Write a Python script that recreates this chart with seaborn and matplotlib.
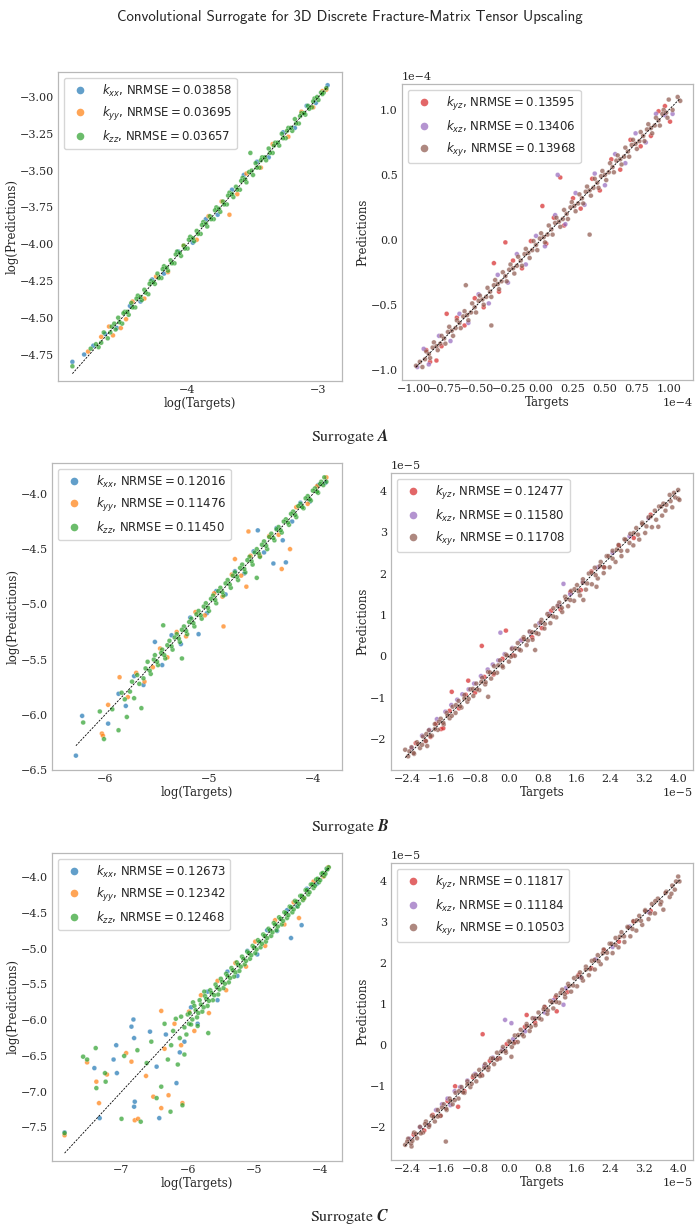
import numpy as np
import pandas as pd
import seaborn as sns
from matplotlib import pyplot as plt
from matplotlib.lines import Line2D

# (target, prediction) pairs, per tensor component

# Surrogate A, diagonal components, log10 values
A_kxx = [(-4.88, -4.80), (-4.79, -4.75), (-4.72, -4.69), (-4.63, -4.61), (-4.54, -4.57),
         (-4.44, -4.42), (-4.36, -4.39), (-4.27, -4.24), (-4.18, -4.20), (-4.07, -4.05),
         (-3.96, -3.99), (-3.86, -3.83), (-3.77, -3.80), (-3.66, -3.63), (-3.57, -3.53),
         (-3.47, -3.44), (-3.38, -3.41), (-3.27, -3.24), (-3.18, -3.21), (-3.09, -3.06),
         (-3.02, -3.04), (-2.93, -2.92)]
A_kyy = [(-4.76, -4.73), (-4.66, -4.63), (-4.60, -4.56), (-4.57, -4.62), (-4.51, -4.57),
         (-4.47, -4.51), (-4.42, -4.39), (-4.33, -4.37), (-4.24, -4.22), (-4.15, -4.19),
         (-4.03, -4.01), (-3.93, -3.97), (-3.84, -3.81), (-3.74, -3.71), (-3.68, -3.80),
         (-3.62, -3.66), (-3.55, -3.52), (-3.44, -3.48), (-3.35, -3.32), (-3.23, -3.27),
         (-3.13, -3.10), (-3.04, -3.07), (-2.97, -2.96), (-2.94, -2.95)]
A_kzz = [(-4.88, -4.83), (-4.74, -4.71), (-4.68, -4.70), (-4.64, -4.60), (-4.61, -4.64),
         (-4.58, -4.56), (-4.55, -4.58), (-4.53, -4.50), (-4.50, -4.54), (-4.48, -4.46),
         (-4.45, -4.48), (-4.43, -4.40), (-4.40, -4.43), (-4.38, -4.35), (-4.35, -4.38),
         (-4.33, -4.31), (-4.30, -4.34), (-4.28, -4.25), (-4.25, -4.27), (-4.23, -4.20),
         (-4.20, -4.23), (-4.18, -4.15), (-4.15, -4.18), (-4.13, -4.11), (-4.10, -4.13),
         (-4.08, -4.05), (-4.05, -4.08), (-4.03, -4.01), (-4.00, -4.03), (-3.98, -3.95),
         (-3.95, -3.98), (-3.93, -3.91), (-3.90, -3.93), (-3.88, -3.85), (-3.85, -3.88),
         (-3.83, -3.81), (-3.80, -3.83), (-3.78, -3.75), (-3.75, -3.78), (-3.73, -3.71),
         (-3.70, -3.73), (-3.68, -3.65), (-3.65, -3.68), (-3.63, -3.61), (-3.60, -3.63),
         (-3.58, -3.55), (-3.55, -3.58), (-3.52, -3.38), (-3.53, -3.51), (-3.50, -3.53),
         (-3.48, -3.45), (-3.45, -3.48), (-3.43, -3.41), (-3.40, -3.43), (-3.38, -3.35),
         (-3.35, -3.38), (-3.33, -3.31), (-3.30, -3.33), (-3.28, -3.25), (-3.25, -3.28),
         (-3.23, -3.21), (-3.20, -3.23), (-3.18, -3.15), (-3.15, -3.18), (-3.13, -3.11),
         (-3.10, -3.12), (-3.08, -3.06), (-3.05, -3.07), (-3.03, -3.01), (-3.00, -3.02),
         (-2.98, -2.97), (-2.96, -2.97), (-2.94, -2.94),
         (-4.70, -4.68), (-4.66, -4.67), (-4.59, -4.60), (-4.56, -4.54), (-4.52, -4.53),
         (-4.49, -4.47), (-4.46, -4.46), (-4.42, -4.43), (-4.39, -4.37), (-4.36, -4.36),
         (-4.32, -4.33), (-4.29, -4.27), (-4.26, -4.26), (-4.22, -4.23), (-4.19, -4.17),
         (-4.16, -4.16), (-4.12, -4.13), (-4.09, -4.07), (-4.06, -4.06), (-4.02, -4.03),
         (-3.99, -3.97), (-3.96, -3.96), (-3.92, -3.93), (-3.89, -3.87), (-3.86, -3.86),
         (-3.82, -3.83), (-3.79, -3.77), (-3.76, -3.76), (-3.72, -3.73), (-3.69, -3.67),
         (-3.66, -3.66), (-3.62, -3.63), (-3.59, -3.57), (-3.56, -3.56), (-3.51, -3.50),
         (-3.47, -3.48), (-3.44, -3.43), (-3.41, -3.41), (-3.37, -3.38), (-3.34, -3.33),
         (-3.31, -3.31), (-3.27, -3.28), (-3.24, -3.23), (-3.21, -3.21), (-3.17, -3.18),
         (-3.14, -3.13), (-3.11, -3.11), (-3.07, -3.08), (-3.04, -3.03), (-3.01, -3.00),
         (-2.97, -2.98)]

# Surrogate A, off-diagonal components, in units of 1e-4
A_kyz = [(-0.87, -0.94), (-0.82, -0.93), (-0.90, -0.85), (-0.74, -0.57), (-0.78, -0.82),
         (-0.66, -0.60), (-0.60, -0.66), (-0.52, -0.45), (-0.45, -0.52), (-0.37, -0.18),
         (-0.33, -0.40), (-0.28, -0.02), (-0.22, -0.16), (-0.15, -0.22), (-0.08, -0.01),
         (0.01, 0.26), (0.04, -0.03), (0.10, 0.17), (0.15, 0.48), (0.18, 0.11),
         (0.25, 0.32), (0.31, 0.24), (0.40, 0.47), (0.46, 0.38), (0.55, 0.62),
         (0.62, 0.54), (0.70, 0.77), (0.78, 0.72), (0.86, 0.80), (0.92, 0.99),
         (1.01, 0.91), (0.97, 1.03)]
A_kxz = [(-0.97, -0.98), (-0.92, -0.84), (-0.88, -0.96), (-0.80, -0.74), (-0.71, -0.78),
         (-0.64, -0.57), (-0.57, -0.64), (-0.49, -0.42), (-0.41, -0.49), (-0.34, -0.27),
         (-0.26, -0.33), (-0.19, -0.11), (-0.12, -0.19), (-0.04, 0.03), (0.03, -0.05),
         (0.11, 0.19), (0.13, 0.50), (0.19, 0.12), (0.27, 0.36), (0.34, 0.27),
         (0.42, 0.51), (0.50, 0.42), (0.58, 0.66), (0.66, 0.59), (0.74, 0.82),
         (0.82, 0.75), (0.90, 0.97), (0.97, 0.96), (1.03, 0.97)]
A_kxy = [(-0.98, -0.97), (-0.93, -0.98), (-0.90, -0.86), (-0.87, -0.91), (-0.84, -0.79),
         (-0.81, -0.85), (-0.78, -0.74), (-0.75, -0.80), (-0.72, -0.67), (-0.69, -0.74),
         (-0.66, -0.62), (-0.63, -0.68), (-0.60, -0.55), (-0.59, -0.35), (-0.57, -0.62),
         (-0.54, -0.49), (-0.51, -0.56), (-0.48, -0.43), (-0.45, -0.50), (-0.42, -0.37),
         (-0.39, -0.66), (-0.39, -0.44), (-0.36, -0.31), (-0.33, -0.38), (-0.30, -0.25),
         (-0.27, -0.32), (-0.24, -0.19), (-0.21, -0.26), (-0.18, -0.13), (-0.15, -0.20),
         (-0.12, -0.07), (-0.09, -0.14), (-0.06, -0.01), (-0.03, -0.08), (0.00, 0.05),
         (0.03, -0.02), (0.06, 0.11), (0.09, 0.04), (0.12, 0.17), (0.15, 0.10),
         (0.18, 0.23), (0.21, 0.16), (0.24, 0.29), (0.27, 0.22), (0.30, 0.35),
         (0.33, 0.28), (0.36, 0.41), (0.38, 0.04), (0.39, 0.34), (0.42, 0.47),
         (0.45, 0.40), (0.48, 0.53), (0.51, 0.46), (0.54, 0.59), (0.57, 0.52),
         (0.60, 0.65), (0.63, 0.58), (0.66, 0.71), (0.69, 0.64), (0.72, 0.77),
         (0.75, 0.70), (0.78, 0.83), (0.81, 0.76), (0.84, 0.89), (0.87, 0.82),
         (0.90, 0.94), (0.93, 0.88), (0.96, 1.00), (0.99, 0.94), (1.00, 1.08),
         (1.03, 1.00), (1.07, 1.10), (1.09, 1.07),
         (-0.95, -0.94), (-0.91, -0.92), (-0.88, -0.88), (-0.85, -0.83), (-0.82, -0.82),
         (-0.79, -0.80), (-0.76, -0.76), (-0.73, -0.71), (-0.70, -0.70), (-0.67, -0.68),
         (-0.64, -0.64), (-0.61, -0.59), (-0.58, -0.58), (-0.55, -0.56), (-0.52, -0.52),
         (-0.49, -0.47), (-0.46, -0.46), (-0.43, -0.44), (-0.40, -0.40), (-0.37, -0.35),
         (-0.34, -0.34), (-0.31, -0.32), (-0.28, -0.28), (-0.25, -0.23), (-0.22, -0.22),
         (-0.19, -0.20), (-0.16, -0.16), (-0.13, -0.11), (-0.10, -0.10), (-0.07, -0.08),
         (-0.04, -0.04), (-0.01, 0.01), (0.02, 0.02), (0.05, 0.04), (0.08, 0.08),
         (0.11, 0.13), (0.14, 0.14), (0.17, 0.16), (0.20, 0.20), (0.23, 0.25),
         (0.26, 0.26), (0.29, 0.28), (0.32, 0.32), (0.35, 0.37), (0.38, 0.38),
         (0.41, 0.40), (0.44, 0.44), (0.47, 0.49), (0.50, 0.50), (0.53, 0.52),
         (0.56, 0.56), (0.59, 0.61), (0.62, 0.62), (0.65, 0.64), (0.68, 0.68),
         (0.71, 0.73), (0.74, 0.74), (0.77, 0.76), (0.80, 0.80), (0.83, 0.85),
         (0.86, 0.86), (0.89, 0.88), (0.92, 0.92), (0.95, 0.97), (0.98, 0.98)]

# Surrogate B, diagonal components, log10 values
B_kxx = [(-6.28, -6.37), (-6.22, -6.01), (-5.97, -6.08), (-5.87, -5.81), (-5.80, -5.92),
         (-5.72, -5.65), (-5.63, -5.73), (-5.52, -5.34), (-5.45, -5.55), (-5.36, -5.28),
         (-5.27, -5.36), (-5.10, -5.27), (-5.18, -5.12), (-5.02, -5.08), (-4.93, -4.88),
         (-4.84, -4.91), (-4.75, -4.70), (-4.66, -4.72), (-4.53, -4.33), (-4.57, -4.52),
         (-4.47, -4.53), (-4.38, -4.63), (-4.29, -4.42), (-4.26, -4.62), (-4.35, -4.31),
         (-4.20, -4.25), (-4.12, -4.08), (-4.03, -4.07), (-3.95, -3.92), (-3.88, -3.90)]
B_kyy = [(-6.03, -6.17), (-6.02, -6.19), (-5.97, -5.91), (-5.86, -5.66), (-5.78, -5.84),
         (-5.70, -5.62), (-5.62, -5.70), (-5.54, -5.57), (-5.47, -5.40), (-5.40, -5.48),
         (-5.31, -5.25), (-5.22, -5.29), (-5.13, -5.07), (-5.04, -5.10), (-4.86, -5.20),
         (-4.95, -4.90), (-4.87, -4.93), (-4.75, -4.59), (-4.78, -4.73), (-4.64, -4.84),
         (-4.69, -4.74), (-4.62, -4.34), (-4.60, -4.56), (-4.51, -4.56), (-4.30, -4.68),
         (-4.22, -4.50), (-4.42, -4.38), (-4.33, -4.37), (-4.16, -4.12), (-4.05, -4.09),
         (-3.96, -3.93), (-3.87, -3.85)]
B_kzz = [(-6.21, -6.07), (-6.05, -5.97), (-6.01, -6.22), (-5.93, -5.95), (-5.87, -6.14),
         (-5.79, -6.02), (-5.76, -5.79), (-5.72, -5.85), (-5.69, -5.64), (-5.65, -5.94),
         (-5.63, -5.67), (-5.59, -5.52), (-5.56, -5.63), (-5.52, -5.46), (-5.49, -5.55),
         (-5.44, -5.19), (-5.45, -5.41), (-5.42, -5.49), (-5.38, -5.33), (-5.35, -5.41),
         (-5.31, -5.27), (-5.28, -5.34), (-5.26, -5.49), (-5.24, -5.20), (-5.21, -5.27),
         (-5.17, -5.13), (-5.14, -5.20), (-5.10, -5.06), (-5.07, -5.13), (-5.03, -4.99),
         (-5.00, -5.06), (-4.96, -4.92), (-4.93, -4.99), (-4.89, -4.85), (-4.86, -4.92),
         (-4.82, -4.78), (-4.79, -4.85), (-4.75, -4.71), (-4.72, -4.78), (-4.68, -4.64),
         (-4.65, -4.71), (-4.61, -4.57), (-4.58, -4.64), (-4.54, -4.76), (-4.54, -4.50),
         (-4.51, -4.57), (-4.47, -4.43), (-4.44, -4.50), (-4.40, -4.36), (-4.37, -4.42),
         (-4.33, -4.30), (-4.30, -4.35), (-4.26, -4.23), (-4.23, -4.28), (-4.19, -4.16),
         (-4.16, -4.21), (-4.12, -4.09), (-4.09, -4.13), (-4.05, -4.02), (-4.02, -4.06),
         (-3.98, -3.95), (-3.95, -3.99), (-3.92, -3.89), (-3.89, -3.85), (-3.87, -3.89),
         (-5.84, -5.80), (-5.81, -5.86), (-5.74, -5.70), (-5.67, -5.72), (-5.61, -5.58),
         (-5.57, -5.60), (-5.53, -5.50), (-5.50, -5.52), (-5.46, -5.44), (-5.43, -5.46),
         (-5.40, -5.37), (-5.36, -5.38), (-5.33, -5.30), (-5.29, -5.31), (-5.26, -5.23),
         (-5.22, -5.24), (-5.19, -5.16), (-5.15, -5.17), (-5.12, -5.09), (-5.08, -5.10),
         (-5.05, -5.02), (-5.01, -5.03), (-4.98, -4.95), (-4.94, -4.96), (-4.91, -4.88),
         (-4.87, -4.89), (-4.84, -4.81), (-4.80, -4.82), (-4.77, -4.74), (-4.73, -4.75),
         (-4.70, -4.67), (-4.66, -4.68), (-4.63, -4.60), (-4.59, -4.61), (-4.56, -4.53),
         (-4.52, -4.54), (-4.49, -4.46), (-4.45, -4.47), (-4.42, -4.39), (-4.38, -4.40),
         (-4.35, -4.32), (-4.31, -4.33), (-4.28, -4.25), (-4.24, -4.26), (-4.21, -4.18),
         (-4.17, -4.19), (-4.14, -4.11), (-4.10, -4.12), (-4.07, -4.04), (-4.03, -4.05),
         (-4.00, -3.97), (-3.96, -3.98), (-3.93, -3.91), (-3.90, -3.92)]

# Surrogate B, off-diagonal components, in units of 1e-5
B_kyz = [(-2.20, -2.10), (-1.97, -2.05), (-1.85, -1.95), (-1.72, -1.63), (-1.60, -1.76),
         (-1.55, -1.74), (-1.35, -0.86), (-1.40, -1.32), (-1.18, -1.26), (-0.96, -0.59),
         (-1.02, -0.93), (-0.80, -0.88), (-0.64, 0.25), (-0.58, -0.50), (-0.36, -0.44),
         (-0.07, 0.62), (-0.15, -0.06), (0.10, 0.02), (0.32, 0.41), (0.55, 0.46),
         (0.78, 0.68), (1.00, 1.10), (1.22, 1.13), (1.45, 1.55), (1.70, 1.60),
         (1.95, 2.05), (2.25, 2.15), (2.60, 2.68), (2.95, 2.86), (3.35, 3.42)]
B_kxz = [(-2.30, -2.22), (-2.05, -1.92), (-1.88, -1.78), (-1.70, -1.52), (-1.50, -1.34),
         (-1.36, -1.18), (-1.22, -1.05), (-1.10, -0.92), (-0.95, -0.80), (-0.82, -0.66),
         (-0.66, -0.48), (-0.50, -0.32), (-0.38, -0.20), (-0.20, 0.57), (-0.25, -0.10),
         (-0.10, 0.05), (0.08, 0.20), (0.28, 0.38), (0.50, 0.58), (0.72, 0.80),
         (0.95, 1.02), (1.29, 1.75), (1.18, 1.24), (1.45, 1.50), (1.75, 1.80),
         (2.10, 2.15), (2.45, 2.50), (2.85, 2.90), (3.30, 3.34)]
B_kxy = [(-2.45, -2.26), (-2.38, -2.42), (-2.30, -2.20), (-2.24, -2.36), (-2.17, -2.08),
         (-2.10, -2.22), (-2.03, -1.94), (-1.93, -2.17), (-1.96, -2.05), (-1.89, -1.79),
         (-1.82, -1.92), (-1.75, -1.64), (-1.68, -1.78), (-1.61, -1.51), (-1.54, -1.65),
         (-1.47, -1.37), (-1.40, -1.50), (-1.33, -1.22), (-1.26, -1.37), (-1.19, -1.08),
         (-1.12, -1.24), (-1.05, -0.94), (-0.98, -1.10), (-0.91, -0.80), (-0.84, -0.96),
         (-0.77, -0.66), (-0.70, -0.82), (-0.63, -0.52), (-0.49, -0.98), (-0.56, -0.68),
         (-0.49, -0.38), (-0.42, -0.54), (-0.35, -0.24), (-0.28, -0.40), (-0.21, -0.10),
         (-0.14, -0.27), (-0.07, 0.04), (0.00, -0.13), (0.07, 0.18), (0.14, 0.01),
         (0.21, 0.32), (0.28, 0.14), (0.35, 0.46), (0.42, 0.27), (0.49, 0.60),
         (0.56, 0.40), (0.62, 0.15), (0.63, 0.74), (0.70, 0.54), (0.77, 0.88),
         (0.84, 0.67), (0.91, 1.02), (0.98, 0.80), (1.05, 1.16), (1.12, 0.94),
         (1.19, 1.30), (1.26, 1.07), (1.33, 1.44), (1.40, 1.21), (1.47, 1.58),
         (1.54, 1.34), (1.61, 1.72), (1.68, 1.47), (1.76, 1.36), (1.75, 1.86),
         (1.82, 1.61), (1.89, 2.00), (1.96, 1.74), (2.03, 2.14), (2.07, 1.68),
         (2.10, 1.88), (2.17, 2.28), (2.24, 2.01), (2.31, 2.42), (2.38, 2.15),
         (2.45, 2.55), (2.52, 2.28), (2.59, 2.69), (2.66, 2.42), (2.73, 2.83),
         (2.80, 2.55), (2.87, 2.96), (2.94, 2.68), (3.01, 3.10), (3.08, 2.82),
         (3.15, 3.23), (3.22, 2.98), (3.30, 3.36), (3.38, 3.12), (3.45, 3.52),
         (3.53, 3.13), (3.55, 3.62), (3.62, 3.40), (3.65, 3.69), (3.72, 3.66),
         (3.80, 3.90), (3.86, 3.60), (3.93, 3.84), (4.00, 4.02), (4.00, 3.81),
         (4.03, 3.78),
         (-2.35, -2.30), (-2.25, -2.34), (-2.15, -2.12), (-2.05, -2.14), (-1.95, -1.88),
         (-1.85, -1.93), (-1.75, -1.76), (-1.65, -1.58), (-1.55, -1.61), (-1.45, -1.43),
         (-1.35, -1.44), (-1.25, -1.18), (-1.15, -1.21), (-1.05, -1.02), (-0.95, -1.03),
         (-0.85, -0.79), (-0.75, -0.80), (-0.65, -0.62), (-0.55, -0.63), (-0.45, -0.39),
         (-0.35, -0.41), (-0.25, -0.22), (-0.15, -0.24), (-0.05, 0.02), (0.05, -0.01),
         (0.15, 0.19), (0.25, 0.16), (0.35, 0.42), (0.45, 0.38), (0.55, 0.58),
         (0.65, 0.56), (0.75, 0.82), (0.85, 0.78), (0.95, 0.98), (1.05, 0.96),
         (1.15, 1.22), (1.25, 1.17), (1.35, 1.38), (1.45, 1.36), (1.55, 1.62),
         (1.65, 1.57), (1.75, 1.78), (1.85, 1.76), (1.95, 2.02), (2.05, 1.96),
         (2.15, 2.18), (2.25, 2.15), (2.35, 2.42), (2.45, 2.36), (2.55, 2.58),
         (2.65, 2.55), (2.75, 2.82), (2.85, 2.74), (2.95, 2.98), (3.05, 2.94),
         (3.15, 3.20), (3.25, 3.14), (3.35, 3.38), (3.48, 3.30), (3.60, 3.62),
         (3.70, 3.52), (3.82, 3.75), (3.90, 3.95)]

# Surrogate C, diagonal components, log10 values
C_kxx = [(-7.86, -7.57), (-7.41, -6.67), (-7.33, -7.37), (-7.12, -6.55), (-7.08, -6.35),
         (-7.07, -6.74), (-6.85, -6.09), (-6.82, -5.99), (-6.81, -7.21), (-6.80, -7.14),
         (-6.81, -6.25), (-6.57, -6.16), (-6.47, -6.65), (-6.43, -7.37), (-6.33, -6.20),
         (-6.17, -6.88), (-6.12, -6.45), (-6.05, -6.30), (-5.95, -5.82), (-5.85, -6.05),
         (-5.70, -5.60), (-5.55, -5.72), (-5.40, -5.32), (-5.25, -5.38), (-5.10, -5.03),
         (-4.95, -5.08), (-4.80, -4.74), (-4.65, -4.75), (-4.44, -4.85), (-4.28, -4.67),
         (-4.50, -4.46), (-4.35, -4.40), (-4.20, -4.16), (-4.05, -4.09), (-3.90, -3.88)]
C_kyy = [(-7.86, -7.61), (-7.52, -6.59), (-7.38, -6.86), (-7.34, -7.16), (-7.22, -6.76),
         (-6.93, -6.46), (-6.85, -6.58), (-6.80, -7.40), (-6.75, -7.38), (-6.63, -6.78),
         (-6.52, -7.07), (-6.40, -5.87), (-6.40, -7.23), (-6.35, -6.40), (-6.29, -7.05),
         (-6.20, -6.05), (-6.08, -7.16), (-6.10, -6.35), (-5.98, -5.88), (-5.90, -6.15),
         (-5.80, -5.65), (-5.68, -5.90), (-5.55, -5.45), (-5.42, -5.58), (-5.28, -5.20),
         (-5.12, -5.25), (-4.98, -4.90), (-4.83, -4.96), (-4.68, -4.60), (-4.54, -4.66),
         (-4.32, -4.57), (-4.40, -4.35), (-4.25, -4.30), (-4.10, -4.06), (-3.95, -3.99),
         (-3.88, -3.86)]
C_kzz = [(-7.86, -7.58), (-7.58, -6.51), (-7.52, -6.55), (-7.39, -6.39), (-7.38, -6.95),
         (-7.25, -6.74), (-7.24, -6.86), (-7.00, -7.38), (-6.96, -6.50), (-6.76, -6.42),
         (-6.71, -7.42), (-6.62, -6.60), (-6.55, -6.30), (-6.47, -7.09), (-6.40, -6.93),
         (-6.30, -6.55), (-6.26, -7.28), (-6.22, -6.15), (-6.08, -7.19), (-6.15, -6.62),
         (-6.05, -6.48), (-5.98, -6.05), (-5.69, -6.18), (-6.10, -5.95),
         (-6.35, -6.05), (-6.25, -6.35), (-6.18, -5.98), (-6.12, -6.25), (-6.02, -6.20),
         (-5.92, -5.75), (-5.85, -6.08), (-5.75, -5.60),
         (-6.00, -5.92), (-5.95, -6.06), (-5.90, -5.80), (-5.86, -5.96), (-5.82, -5.72),
         (-5.78, -5.88), (-5.74, -5.66), (-5.70, -5.80), (-5.66, -5.58), (-5.62, -5.72),
         (-5.58, -5.50), (-5.54, -5.64), (-5.50, -5.42), (-5.46, -5.55), (-5.42, -5.35),
         (-5.38, -5.47), (-5.34, -5.27), (-5.30, -5.39), (-5.26, -5.19), (-5.22, -5.31),
         (-5.18, -5.11), (-5.14, -5.22), (-5.10, -5.04), (-5.06, -5.14), (-5.02, -4.96),
         (-4.98, -5.06), (-4.94, -4.88), (-4.90, -4.98), (-4.86, -4.80), (-4.82, -4.90),
         (-4.78, -4.72), (-4.74, -4.82), (-4.70, -4.64), (-4.66, -4.74), (-4.62, -4.56),
         (-4.58, -4.66), (-4.54, -4.49), (-4.50, -4.57), (-4.46, -4.41), (-4.42, -4.49),
         (-4.38, -4.33), (-4.34, -4.41), (-4.30, -4.26), (-4.26, -4.32), (-4.22, -4.18),
         (-4.18, -4.24), (-4.14, -4.10), (-4.10, -4.15), (-4.06, -4.03), (-4.02, -4.07),
         (-3.98, -3.95), (-3.94, -3.98), (-3.90, -3.88), (-3.87, -3.86),
         (-6.05, -6.10), (-5.97, -5.90), (-5.93, -5.99), (-5.88, -5.86), (-5.84, -5.90),
         (-5.80, -5.78), (-5.76, -5.82), (-5.72, -5.70), (-5.68, -5.73), (-5.64, -5.62),
         (-5.60, -5.65), (-5.56, -5.54), (-5.52, -5.57), (-5.48, -5.46), (-5.44, -5.49),
         (-5.40, -5.38), (-5.36, -5.41), (-5.32, -5.30), (-5.28, -5.33), (-5.24, -5.22),
         (-5.20, -5.25), (-5.16, -5.14), (-5.12, -5.17), (-5.08, -5.06), (-5.04, -5.09),
         (-5.00, -4.98), (-4.96, -5.01), (-4.92, -4.90), (-4.88, -4.93), (-4.84, -4.82),
         (-4.80, -4.85), (-4.76, -4.74), (-4.72, -4.77), (-4.68, -4.66), (-4.64, -4.69),
         (-4.60, -4.58), (-4.56, -4.61), (-4.52, -4.50), (-4.48, -4.53), (-4.44, -4.42),
         (-4.40, -4.45), (-4.36, -4.34), (-4.32, -4.37), (-4.28, -4.26), (-4.24, -4.29),
         (-4.20, -4.18), (-4.16, -4.21), (-4.12, -4.10), (-4.08, -4.12), (-4.04, -4.02),
         (-4.00, -4.04), (-3.96, -3.94), (-3.92, -3.95), (-3.89, -3.89)]

# Surrogate C, off-diagonal components, in units of 1e-5
C_kyz = [(-2.25, -2.18), (-2.00, -2.08), (-1.80, -1.70), (-1.62, -1.72), (-1.45, -1.36),
         (-1.27, -1.00), (-1.20, -1.50), (-1.05, -1.12), (-0.85, -0.78), (-0.62, 0.27),
         (-0.65, -0.72), (-0.45, -0.38), (-0.25, -0.32), (-0.05, 0.03), (0.15, 0.08),
         (0.42, 0.74), (0.38, 0.45), (0.62, 0.55), (0.85, 0.93), (1.13, 0.83),
         (1.10, 1.17), (1.38, 1.30), (1.65, 1.72), (1.95, 1.88), (2.25, 2.32),
         (2.60, 2.53), (2.95, 3.02), (3.35, 3.28)]
C_kxz = [(-2.35, -2.28), (-2.10, -2.00), (-1.90, -1.95), (-1.72, -1.58), (-1.58, -1.44),
         (-1.45, -1.30), (-1.38, -1.46), (-1.28, -1.12), (-1.15, -1.02), (-0.98, -0.86),
         (-0.80, -0.70), (-0.58, -0.50), (-0.38, -0.30), (-0.09, 0.62), (0.06, 0.54),
         (-0.15, -0.10), (0.10, 0.15), (0.38, 0.34), (0.60, 0.66), (0.85, 0.80),
         (1.29, 0.99), (1.05, 1.10), (1.35, 1.40), (1.70, 1.65), (2.05, 2.10),
         (2.45, 2.40), (2.85, 2.90), (3.30, 3.25)]
C_kxy = [(-2.45, -2.43), (-2.30, -2.47), (-2.38, -2.28), (-2.31, -2.40), (-2.24, -2.13),
         (-2.17, -2.27), (-2.10, -1.99), (-2.03, -2.13), (-1.96, -1.86), (-1.89, -1.99),
         (-1.82, -1.72), (-1.75, -1.86), (-1.68, -1.58), (-1.61, -1.72), (-1.54, -1.44),
         (-1.49, -2.35), (-1.47, -1.58), (-1.40, -1.30), (-1.33, -1.44), (-1.26, -1.16),
         (-1.19, -1.30), (-1.12, -1.02), (-1.05, -1.16), (-0.98, -0.88), (-0.91, -1.02),
         (-0.84, -0.74), (-0.77, -0.88), (-0.70, -0.60), (-0.63, -0.74), (-0.56, -0.46),
         (-0.49, -0.60), (-0.42, -0.32), (-0.35, -0.46), (-0.28, -0.18), (-0.21, -0.32),
         (-0.14, -0.04), (-0.07, -0.18), (0.00, 0.10), (0.06, -0.28), (0.07, -0.04),
         (0.14, 0.24), (0.21, 0.08), (0.28, 0.38), (0.35, 0.22), (0.42, 0.52),
         (0.49, 0.35), (0.56, 0.66), (0.63, 0.49), (0.70, 0.80), (0.77, 0.63),
         (0.84, 0.94), (0.91, 0.77), (0.98, 1.08), (1.05, 0.90), (1.12, 1.22),
         (1.19, 1.04), (1.26, 1.36), (1.33, 1.17), (1.40, 1.50), (1.47, 1.31),
         (1.54, 1.64), (1.61, 1.44), (1.68, 1.78), (1.75, 1.58), (1.82, 1.92),
         (1.89, 1.71), (1.96, 2.06), (2.03, 1.85), (2.10, 2.20), (2.17, 1.98),
         (2.24, 2.34), (2.31, 2.12), (2.38, 2.48), (2.45, 2.25), (2.52, 2.62),
         (2.59, 2.39), (2.66, 2.76), (2.73, 2.52), (2.80, 2.89), (2.87, 2.66),
         (2.94, 3.03), (3.01, 2.80), (3.08, 3.16), (3.15, 2.94), (3.22, 3.30),
         (3.30, 3.08), (3.38, 3.45), (3.45, 3.22), (3.52, 3.58), (3.60, 3.50),
         (3.65, 3.31), (3.72, 3.75), (3.80, 3.62), (3.86, 3.90), (3.92, 3.80),
         (4.00, 4.12), (4.03, 4.00),
         (-2.40, -2.35), (-2.28, -2.33), (-2.20, -2.16), (-2.08, -2.15), (-1.98, -1.92),
         (-1.88, -1.95), (-1.78, -1.75), (-1.68, -1.74), (-1.58, -1.52), (-1.48, -1.55),
         (-1.38, -1.35), (-1.28, -1.34), (-1.18, -1.12), (-1.08, -1.15), (-0.98, -0.95),
         (-0.88, -0.94), (-0.78, -0.72), (-0.68, -0.75), (-0.58, -0.55), (-0.48, -0.54),
         (-0.38, -0.32), (-0.28, -0.35), (-0.18, -0.15), (-0.08, -0.14), (0.02, 0.08),
         (0.12, 0.05), (0.22, 0.25), (0.32, 0.26), (0.42, 0.48), (0.52, 0.45),
         (0.62, 0.65), (0.72, 0.66), (0.82, 0.88), (0.92, 0.85), (1.02, 1.05),
         (1.12, 1.06), (1.22, 1.28), (1.32, 1.25), (1.42, 1.45), (1.52, 1.46),
         (1.62, 1.68), (1.72, 1.65), (1.82, 1.85), (1.92, 1.86), (2.02, 2.08),
         (2.12, 2.05), (2.22, 2.25), (2.32, 2.26), (2.42, 2.48), (2.52, 2.45),
         (2.62, 2.65), (2.72, 2.66), (2.82, 2.88), (2.92, 2.84), (3.02, 3.05),
         (3.12, 3.04), (3.22, 3.28), (3.34, 3.22), (3.46, 3.52), (3.58, 3.44),
         (3.70, 3.72), (3.84, 3.70), (3.95, 4.00)]

diag_names = ["xx", "yy", "zz"]
off_names = ["yz", "xz", "xy"]

A_diag_nrmse = ["0.03858", "0.03695", "0.03657"]
A_off_nrmse = ["0.13595", "0.13406", "0.13968"]
B_diag_nrmse = ["0.12016", "0.11476", "0.11450"]
B_off_nrmse = ["0.12477", "0.11580", "0.11708"]
C_diag_nrmse = ["0.12673", "0.12342", "0.12468"]
C_off_nrmse = ["0.11817", "0.11184", "0.10503"]

surrogates = ["A", "B", "C"]

A_diag_xticks = [-4, -3]
A_diag_yticks = [-4.75, -4.50, -4.25, -4.00, -3.75, -3.50, -3.25, -3.00]
A_off_xticks = [-1.00, -0.75, -0.50, -0.25, 0.00, 0.25, 0.50, 0.75, 1.00]
A_off_yticks = [-1.0, -0.5, 0.0, 0.5, 1.0]
B_diag_xticks = [-6, -5, -4]
B_diag_yticks = [-6.5, -6.0, -5.5, -5.0, -4.5, -4.0]
C_diag_xticks = [-7, -6, -5, -4]
C_diag_yticks = [-7.5, -7.0, -6.5, -6.0, -5.5, -5.0, -4.5, -4.0]
BC_off_xticks = [-2.4, -1.6, -0.8, 0.0, 0.8, 1.6, 2.4, 3.2, 4.0]
BC_off_yticks = [-2, -1, 0, 1, 2, 3, 4]

W, H = 700, 1229

sns.set_style("white")
plt.rcParams.update({
    "font.family": ["DejaVu Serif"],
    "axes.edgecolor": "0.72",
    "axes.linewidth": 0.9,
    "xtick.labelsize": 8,
    "ytick.labelsize": 8,
    "xtick.major.size": 0,
    "ytick.major.size": 0,
    "xtick.major.pad": 3,
    "ytick.major.pad": 3,
    "axes.labelsize": 8.5,
    "axes.labelpad": 1,
})

tab = sns.color_palette("tab10")
diag_colors = [tab[0], tab[1], tab[2]]
off_colors = [tab[3], tab[4], tab[5]]


def px_axes(fig, x0, y0, x1, y1):
    return fig.add_axes([x0 / W, 1 - y1 / H, (x1 - x0) / W, (y1 - y0) / H])


def panel(ax, series, names, nrmse, colors, scale, xlim, ylim, xticks, yticks, log):
    frames = []
    for pts, n in zip(series, names):
        d = pd.DataFrame(pts, columns=["target", "prediction"])
        d["comp"] = n
        frames.append(d)
    df = pd.concat(frames, ignore_index=True)
    df["target"] *= scale
    df["prediction"] *= scale

    sns.scatterplot(data=df, x="target", y="prediction", hue="comp",
                    palette=colors, hue_order=names, s=12, alpha=0.7,
                    edgecolor="white", linewidth=0.25, legend=False, ax=ax)
    lo, hi = df["target"].min(), df["target"].max()
    ax.plot([lo, hi], [lo, hi], color="black", lw=0.6, ls=(0, (2.5, 1.5)))

    ax.set_xlim(xlim[0] * scale, xlim[1] * scale)
    ax.set_ylim(ylim[0] * scale, ylim[1] * scale)
    ax.set_xticks([t * scale for t in xticks])
    ax.set_yticks([t * scale for t in yticks])
    if log:
        ax.set_xlabel("log(Targets)")
        ax.set_ylabel("log(Predictions)")
    else:
        ax.ticklabel_format(axis="both", style="sci", scilimits=(0, 0))
        ax.xaxis.get_offset_text().set_fontsize(8)
        ax.yaxis.get_offset_text().set_fontsize(8)
        ax.set_xlabel("Targets")
        ax.set_ylabel("Predictions")

    handles = [Line2D([], [], ls="", marker="o", markersize=5.5, color=c,
                      alpha=0.7, markeredgewidth=0) for c in colors]
    labels = [rf"$k_{{{n}}}$, $\mathrm{{NRMSE}} = {v}$" for n, v in zip(names, nrmse)]
    ax.legend(handles, labels, loc="upper left",
              prop={"family": "DejaVu Sans", "size": 8.5})


fig = plt.figure(figsize=(W / 100, H / 100), dpi=100)

ax = px_axes(fig, 58, 72, 342, 381)
panel(ax, [A_kxx, A_kyy, A_kzz], diag_names, A_diag_nrmse, diag_colors, 1,
      (-4.99, -2.82), (-4.93, -2.83), A_diag_xticks, A_diag_yticks, True)
ax = px_axes(fig, 402, 84, 693, 380)
panel(ax, [A_kyz, A_kxz, A_kxy], off_names, A_off_nrmse, off_colors, 1e-4,
      (-1.09, 1.19), (-1.08, 1.20), A_off_xticks, A_off_yticks, False)

ax = px_axes(fig, 52, 463, 342, 770)
panel(ax, [B_kxx, B_kyy, B_kzz], diag_names, B_diag_nrmse, diag_colors, 1,
      (-6.51, -3.72), (-6.50, -3.72), B_diag_xticks, B_diag_yticks, True)
ax = px_axes(fig, 391, 473, 693, 770)
panel(ax, [B_kyz, B_kxz, B_kxy], off_names, B_off_nrmse, off_colors, 1e-5,
      (-2.785, 4.35), (-2.75, 4.43), BC_off_xticks, BC_off_yticks, False)

ax = px_axes(fig, 52, 853, 342, 1161)
panel(ax, [C_kxx, C_kyy, C_kzz], diag_names, C_diag_nrmse, diag_colors, 1,
      (-8.05, -3.67), (-7.97, -3.66), C_diag_xticks, C_diag_yticks, True)
ax = px_axes(fig, 391, 863, 693, 1160)
panel(ax, [C_kyz, C_kxz, C_kxy], off_names, C_off_nrmse, off_colors, 1e-5,
      (-2.785, 4.35), (-2.80, 4.45), BC_off_xticks, BC_off_yticks, False)

fig.text(0.5, 1 - 17 / H,
         "Convolutional Surrogate for 3D Discrete Fracture-Matrix Tensor Upscaling",
         ha="center", va="center", fontsize=10.7, family="cmss10")
for i, name in enumerate(surrogates):
    fig.text(0.5, 1 - (437 + 390 * i) / H, rf"Surrogate $\boldsymbol{{{name}}}$",
             ha="center", va="center", fontsize=11.5, family="STIXGeneral",
             math_fontfamily="stix")

fig.savefig("out.png", dpi=100)
